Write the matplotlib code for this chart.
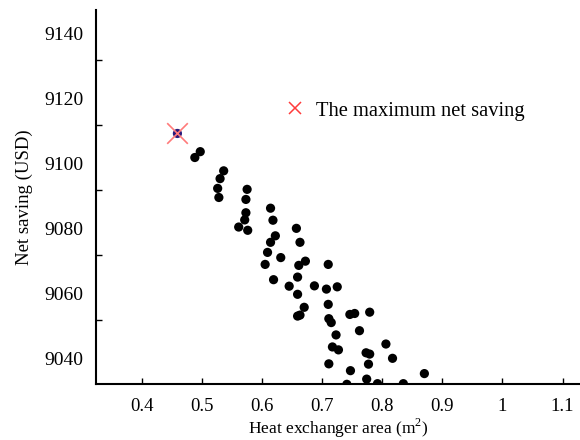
import matplotlib
matplotlib.use("Agg")
import matplotlib.pyplot as plt
from matplotlib.lines import Line2D

# ---- data ----
area = [0.497, 0.488, 0.536, 0.530, 0.526, 0.528, 0.575, 0.573, 0.573, 0.571,
        0.561, 0.576, 0.614, 0.618, 0.622, 0.614, 0.609, 0.631, 0.605, 0.619,
        0.657, 0.663, 0.672, 0.661, 0.659, 0.645, 0.659, 0.670, 0.663, 0.659,
        0.687, 0.710, 0.707, 0.725, 0.710, 0.711, 0.715, 0.723, 0.717, 0.727,
        0.711, 0.746, 0.754, 0.779, 0.762, 0.806, 0.773, 0.779, 0.817, 0.777,
        0.747, 0.774, 0.741, 0.792, 0.835, 0.870]
saving = [9103.6, 9101.8, 9097.7, 9095.3, 9092.3, 9089.5, 9092.0, 9088.9, 9084.8, 9082.6,
          9080.4, 9079.4, 9086.2, 9082.5, 9077.7, 9075.7, 9072.6, 9071.0, 9068.9, 9064.2,
          9080.0, 9075.7, 9069.9, 9068.6, 9065.0, 9062.2, 9059.7, 9055.7, 9053.3, 9053.0,
          9062.3, 9068.9, 9061.3, 9062.0, 9056.6, 9052.2, 9051.0, 9047.2, 9043.5, 9042.6,
          9038.3, 9053.5, 9053.8, 9054.2, 9048.5, 9044.4, 9041.7, 9041.3, 9040.0, 9038.2,
          9036.2, 9033.6, 9032.0, 9032.2, 9032.2, 9035.3]
max_area = [0.459]
max_saving = [9109.2]

x_ticks = [0.4, 0.5, 0.6, 0.7, 0.8, 0.9, 1.0, 1.1]
x_tick_labels = ["0.4", "0.5", "0.6", "0.7", "0.8", "0.9", "1", "1.1"]
y_ticks = [9040, 9060, 9080, 9100, 9120, 9140]
y_tick_labels = ["9040", "9060", "9080", "9100", "9120", "9140"]

legend_label = "The maximum net saving"
x_label = "Heat exchanger area (m$^2$)"
y_label = "Net saving (USD)"

plt.rcParams['font.family'] = ['Liberation Serif', 'DejaVu Serif']
plt.rcParams['mathtext.fontset'] = 'custom'
plt.rcParams['mathtext.rm'] = 'Liberation Serif'

fig = plt.figure(figsize=(5.8, 4.4), dpi=100)
ax = fig.add_axes([0.1655, 0.1273, 0.8345, 0.85])

ax.scatter(area, saving, s=44, color='black', edgecolors='none', zorder=3)
ax.scatter(max_area, max_saving, s=44, color='#2b1a7a', edgecolors='none', zorder=3)
ax.scatter(max_area, max_saving, s=220, marker='x', color='#ff7a7a',
           linewidths=1.2, zorder=4)

ax.set_xlim(0.3235, 1.129)
ax.set_ylim(9032.1, 9147.2)

for s in ['top', 'right']:
    ax.spines[s].set_visible(False)
for s in ['left', 'bottom']:
    ax.spines[s].set_linewidth(1.5)
    ax.spines[s].set_color('black')

ax.set_xticks(x_ticks)
ax.set_xticklabels(x_tick_labels, fontsize=13.5)
ax.tick_params(axis='x', direction='in', length=4, width=1, pad=10)

ax.set_yticks(y_ticks)
ax.set_yticklabels(y_tick_labels, fontsize=14)
ax.tick_params(axis='y', which='major', length=0, pad=9)
ax.set_yticks([v - 8.2 for v in y_ticks[1:]], minor=True)
ax.tick_params(axis='y', which='minor', direction='in', length=4, width=1)

ax.set_xlabel(x_label, fontsize=12.6, labelpad=1.5)
ax.set_ylabel(y_label, fontsize=13.5, labelpad=8)

handle = Line2D([], [], linestyle='none', marker='x', markersize=9,
                markeredgewidth=1.1, color='#ff3b3b')
ax.legend([handle], [legend_label], loc='center left',
          bbox_to_anchor=(0.369, 0.730), frameon=False, fontsize=14.8,
          handletextpad=0.4, handlelength=1.2, borderaxespad=0)

fig.savefig("out.png", dpi=100)
